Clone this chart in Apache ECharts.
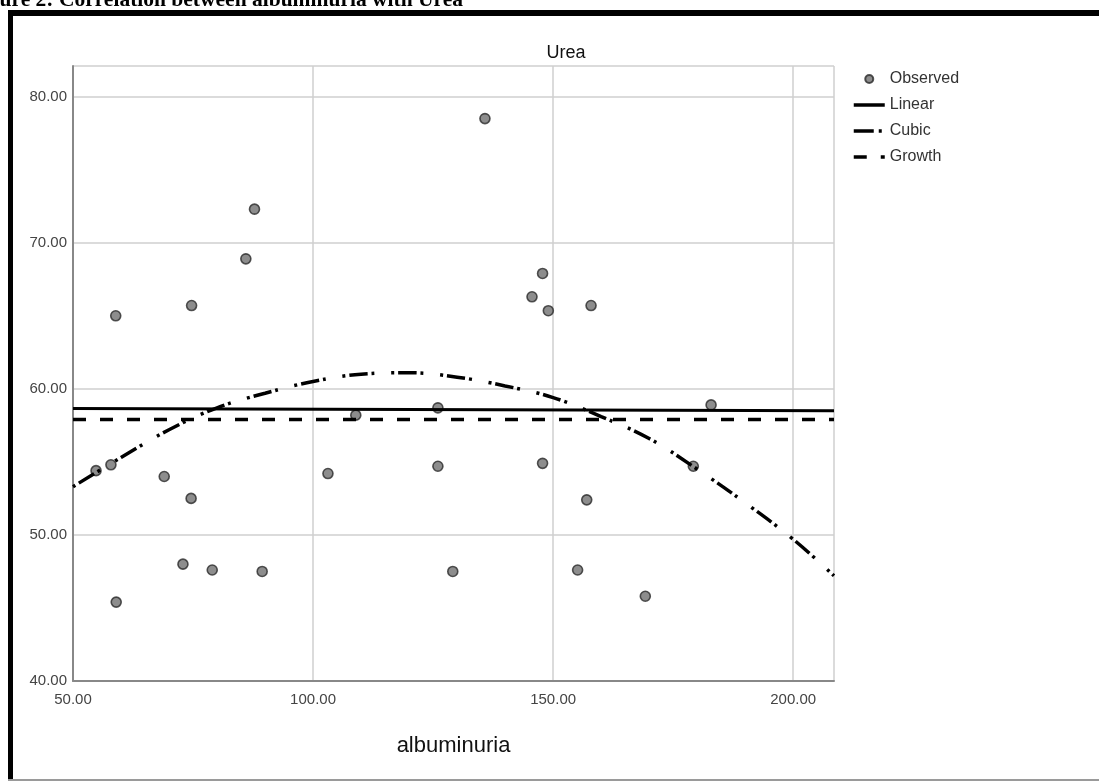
<!DOCTYPE html>
<html>
<head>
<meta charset="utf-8">
<script src="https://cdn.jsdelivr.net/npm/echarts@6/dist/echarts.min.js"></script>
<style>
html,body{margin:0;padding:0;background:#fff;}
#chart{width:1099px;height:781px;}
</style>
</head>
<body>
<div id="chart"></div>
<script>
// ---- data ----
const observedX = [54.8, 57.9, 58.9, 59.0, 69.0, 72.9, 74.6, 74.7, 79.0, 86.0, 87.8, 89.4, 103.1, 108.9,
                   126.0, 126.0, 129.1, 135.8, 145.6, 147.8, 149.0, 147.8, 155.1, 157.0, 157.9, 169.2, 179.2, 182.9];
const observedY = [54.4, 54.8, 65.0, 45.4, 54.0, 48.0, 52.5, 65.7, 47.6, 68.9, 72.3, 47.5, 54.2, 58.2,
                   58.7, 54.7, 47.5, 78.5, 66.3, 67.9, 65.35, 54.9, 47.6, 52.4, 65.7, 45.8, 54.7, 58.9];
const linearX = [50, 208.5];
const linearY = [58.65, 58.5];
const cubicX = [50, 60, 70, 80, 90, 100, 110, 120, 130, 140, 150, 160, 170, 180, 190, 200, 208.5];
const cubicY = [53.3, 55.3, 57.2, 58.7, 59.7, 60.5, 61.0, 61.1, 60.8, 60.2, 59.4, 58.1, 56.6, 54.5, 52.2, 49.7, 47.2];
const growthX = [50, 208.5];
const growthY = [57.9, 57.9];
const xRange = [50, 208.5];
const yRange = [40, 82.1];
const xInterval = 50;
const yInterval = 10;
const chartTitle = 'Urea';
const xAxisName = 'albuminuria';
const caption = 'Figure 2: Correlation between albuminuria with Urea';
const seriesNames = ['Observed', 'Linear', 'Cubic', 'Growth'];

const pairs = (xs, ys) => xs.map((x, i) => [x, ys[i]]);
const sans = "'Liberation Sans',Arial,sans-serif";

const chart = echarts.init(document.getElementById('chart'), null, {renderer: 'canvas'});
chart.setOption({
  animation: false,
  backgroundColor: '#fff',
  title: {
    text: chartTitle,
    left: 561, top: 39,
    textAlign: 'center',
    textStyle: {fontFamily: sans, fontSize: 18, fontWeight: 'normal', color: '#111'}
  },
  legend: {
    orient: 'vertical',
    left: 852, top: 70, padding: 0,
    itemWidth: 31, itemHeight: 8, itemGap: 8,
    textStyle: {fontFamily: sans, fontSize: 16, color: '#333', lineHeight: 18},
    data: [
      {name: seriesNames[0]},
      {name: seriesNames[1], itemStyle: {opacity: 0}, lineStyle: {width: 3.5}},
      {name: seriesNames[2], itemStyle: {opacity: 0}, lineStyle: {width: 3.5, type: [20, 5, 3, 10]}},
      {name: seriesNames[3], itemStyle: {opacity: 0}, lineStyle: {width: 3.5, type: [13, 14]}}
    ]
  },
  grid: {left: 73, top: 66, right: 265, bottom: 100, containLabel: false},
  xAxis: {
    type: 'value', min: xRange[0], max: xRange[1], interval: xInterval,
    name: xAxisName, nameLocation: 'middle', nameGap: 54,
    nameTextStyle: {fontFamily: sans, fontSize: 22, color: '#111'},
    axisLine: {show: true, onZero: false, lineStyle: {color: '#888', width: 2}},
    axisTick: {show: false},
    axisLabel: {fontFamily: sans, fontSize: 15, color: '#444', margin: 11,
      formatter: v => v.toFixed(2)},
    splitLine: {show: true, lineStyle: {color: '#cfcfcf', width: 1.5}}
  },
  yAxis: {
    type: 'value', min: yRange[0], max: yRange[1], interval: yInterval,
    axisLine: {show: true, onZero: false, lineStyle: {color: '#888', width: 2}},
    axisTick: {show: false},
    axisLabel: {fontFamily: sans, fontSize: 15, color: '#444', margin: 6,
      formatter: v => v.toFixed(2), showMaxLabel: false},
    splitLine: {show: true, lineStyle: {color: '#cfcfcf', width: 1.5}}
  },
  series: [
    {
      name: seriesNames[0], type: 'scatter', data: pairs(observedX, observedY),
      symbol: 'circle', symbolSize: 10, z: 2,
      itemStyle: {color: '#707070', borderColor: '#2a2a2a', borderWidth: 1.6}
    },
    {
      name: seriesNames[1], type: 'line', data: pairs(linearX, linearY),
      symbol: 'none', z: 3, color: '#000',
      lineStyle: {color: '#000', width: 3}
    },
    {
      name: seriesNames[2], type: 'line', data: pairs(cubicX, cubicY),
      symbol: 'none', smooth: 0.4, z: 3, color: '#000',
      lineStyle: {color: '#000', width: 3.5, type: [3, 4, 18, 4, 3, 17], cap: 'butt'}
    },
    {
      name: seriesNames[3], type: 'line', data: pairs(growthX, growthY),
      symbol: 'none', z: 3, color: '#000',
      lineStyle: {color: '#000', width: 3.5, type: [13, 14], cap: 'butt'}
    }
  ],
  graphic: [
    {type: 'rect', left: 8, top: 10, shape: {width: 1091, height: 6}, style: {fill: '#000'}, silent: true},
    {type: 'rect', left: 8, top: 10, shape: {width: 5, height: 771}, style: {fill: '#000'}, silent: true},
    {type: 'rect', left: 8, top: 779, shape: {width: 1091, height: 2}, style: {fill: '#9a9a9a'}, silent: true},
    {type: 'text', x: 463, y: 0, silent: true,
      style: {text: caption, font: "bold 21.5px 'Liberation Serif','Times New Roman',serif",
        fill: '#000', textAlign: 'right', textVerticalAlign: 'middle'}}
  ]
});
</script>
</body>
</html>
